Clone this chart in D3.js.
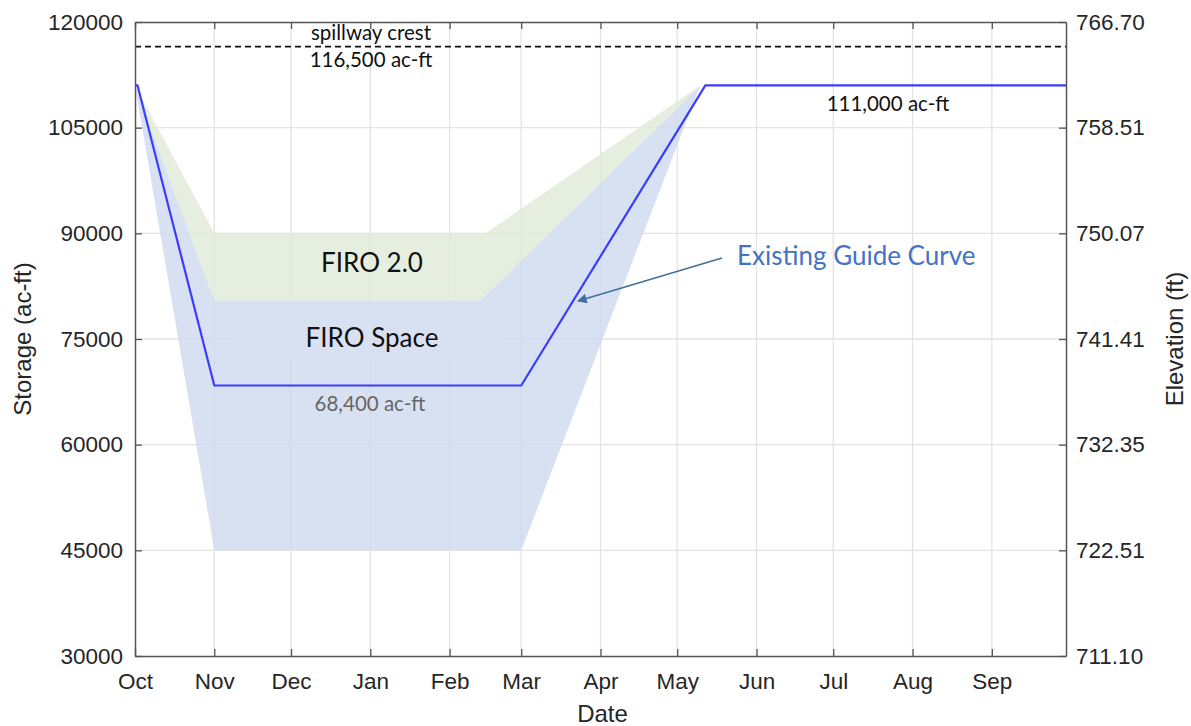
<!DOCTYPE html>
<html>
<head>
<meta charset="utf-8">
<script src="https://cdn.jsdelivr.net/npm/d3@7"></script>
<style>
  body { margin: 0; background: #fff; }
  svg { display: block; }
</style>
</head>
<body>
<svg width="1191" height="726"></svg>
<script>
var width = 1191;
var height = 726;
var margin = {left: 135, right: 125, top: 22, bottom: 70};

// x ticks
var monthTicks = ["2018-10-01","2018-11-01","2018-12-01","2019-01-01","2019-02-01","2019-03-01",
                  "2019-04-01","2019-05-01","2019-06-01","2019-07-01","2019-08-01","2019-09-01"];
var monthLabels = ["Oct","Nov","Dec","Jan","Feb","Mar","Apr","May","Jun","Jul","Aug","Sep"];

// y ticks, storage and matching elevation
var storageTicks = [30000, 45000, 60000, 75000, 90000, 105000, 120000];
var elevLabels = ["711.10","722.51","732.35","741.41","750.07","758.51","766.70"];

// existing guide curve
var guideDates = ["2018-10-01","2018-10-02","2018-11-01","2019-03-01","2019-05-12","2019-09-30"];
var guideStorage = [111000, 111000, 68400, 68400, 111000, 111000];

// FIRO 2.0 band
var firo2TopDates = ["2018-10-01","2018-11-01","2019-02-15","2019-05-10"];
var firo2Top = [111000, 90000, 90000, 111000];
var firo2BotDates = ["2018-10-01","2018-11-01","2019-02-13","2019-05-10"];
var firo2Bot = [111000, 80500, 80500, 111000];

// FIRO space lower edge
var spaceBotDates = ["2018-10-01","2018-11-01","2019-03-01","2019-05-10"];
var spaceBot = [111000, 45000, 45000, 111000];

var spillway = 116500;

var parse = d3.timeParse("%Y-%m-%d");
var toPts = function(dates, vals){
  return dates.map(function(d,i){ return {date: parse(d), v: vals[i]}; });
};

var svg = d3.select("svg");

var x = d3.scaleTime()
  .domain([parse("2018-10-01"), parse("2019-09-30")])
  .range([margin.left, width - margin.right]);
var y = d3.scaleLinear()
  .domain([30000, 120000])
  .range([height - margin.bottom, margin.top]);

var x0 = margin.left, x1 = width - margin.right;
var y0 = height - margin.bottom, y1 = margin.top;

// grid
svg.append("g").selectAll("line")
  .data(monthTicks.slice(1))
  .enter().append("line")
  .attr("x1", function(d){ return x(parse(d)); })
  .attr("x2", function(d){ return x(parse(d)); })
  .attr("y1", y0).attr("y2", y1)
  .attr("stroke", "#e3e3e3").attr("stroke-width", 1.3);
svg.append("g").selectAll("line")
  .data(storageTicks.slice(1, -1))
  .enter().append("line")
  .attr("y1", function(d){ return y(d); })
  .attr("y2", function(d){ return y(d); })
  .attr("x1", x0).attr("x2", x1)
  .attr("stroke", "#e3e3e3").attr("stroke-width", 1.3);

var line = d3.line()
  .x(function(d){ return x(d.date); })
  .y(function(d){ return y(d.v); });

var blueFill = "rgb(206,217,239)";

// label box behind FIRO Space (hides the grid there)
svg.append("rect")
  .attr("x", 233).attr("y", 300)
  .attr("width", 272).attr("height", 60)
  .attr("fill", "#fff");

// FIRO space (blue)
var spaceTop = toPts(firo2BotDates, firo2Bot);
var spaceLow = toPts(spaceBotDates, spaceBot);
svg.append("path")
  .attr("d", line(spaceTop.concat(spaceLow.slice().reverse())) + "Z")
  .attr("fill", blueFill)
  .attr("fill-opacity", 0.8);

// FIRO 2.0 (green)
var gTop = toPts(firo2TopDates, firo2Top);
var gBot = toPts(firo2BotDates, firo2Bot);
svg.append("path")
  .attr("d", line(gTop.concat(gBot.slice().reverse())) + "Z")
  .attr("fill", "rgb(224,235,215)")
  .attr("fill-opacity", 0.8);

// spillway crest
svg.append("line")
  .attr("x1", x0).attr("x2", x1)
  .attr("y1", y(spillway)).attr("y2", y(spillway))
  .attr("stroke", "#111").attr("stroke-width", 1.6)
  .attr("stroke-dasharray", "6,4");

// guide curve
svg.append("path")
  .attr("d", line(toPts(guideDates, guideStorage)))
  .attr("fill", "none")
  .attr("stroke", "#3c3cff")
  .attr("stroke-width", 2.2)
  .attr("stroke-linejoin", "round");

// axes box
var axisCol = "#555";
var tickFont = "'Liberation Sans', Arial, sans-serif";

var bottomAxis = d3.axisBottom(x)
  .tickValues(monthTicks.map(parse))
  .tickFormat(function(d,i){ return monthLabels[i]; })
  .tickSizeInner(-7).tickSizeOuter(0).tickPadding(17);
var topAxis = d3.axisTop(x)
  .tickValues(monthTicks.map(parse))
  .tickFormat("")
  .tickSizeInner(-7).tickSizeOuter(0);
var leftAxis = d3.axisLeft(y)
  .tickValues(storageTicks)
  .tickFormat(d3.format("d"))
  .tickSizeInner(-7).tickSizeOuter(0).tickPadding(12);
var rightAxis = d3.axisRight(y)
  .tickValues(storageTicks)
  .tickFormat(function(d,i){ return elevLabels[i]; })
  .tickSizeInner(-7).tickSizeOuter(0).tickPadding(10);

var axes = [
  svg.append("g").attr("transform", "translate(0," + y0 + ")").call(bottomAxis),
  svg.append("g").attr("transform", "translate(0," + y1 + ")").call(topAxis),
  svg.append("g").attr("transform", "translate(" + x0 + ",0)").call(leftAxis),
  svg.append("g").attr("transform", "translate(" + x1 + ",0)").call(rightAxis)
];
axes.forEach(function(g){
  g.select(".domain").attr("stroke", axisCol).attr("stroke-width", 1.5);
  g.selectAll(".tick line").attr("stroke", axisCol).attr("stroke-width", 1.3);
  g.selectAll(".tick text")
    .attr("fill", "#262626")
    .style("font-family", tickFont)
    .style("font-size", "22.5px");
});

// axis titles
svg.append("text")
  .attr("x", (x0 + x1) / 2 + 2).attr("y", 722)
  .attr("text-anchor", "middle")
  .style("font-family", tickFont).style("font-size", "24px")
  .attr("fill", "#262626")
  .text("Date");
svg.append("text")
  .attr("transform", "translate(31," + ((y0 + y1) / 2) + ") rotate(-90)")
  .attr("text-anchor", "middle")
  .style("font-family", tickFont).style("font-size", "24px")
  .attr("fill", "#262626")
  .text("Storage (ac-ft)");
svg.append("text")
  .attr("transform", "translate(1183," + ((y0 + y1) / 2) + ") rotate(-90)")
  .attr("text-anchor", "middle")
  .style("font-family", tickFont).style("font-size", "24px")
  .attr("fill", "#262626")
  .text("Elevation (ft)");

// annotations
var noteFont = "Lato, 'Open Sans', sans-serif";
var notes = [
  {t: "spillway crest", x: 371, y: 40, s: 20.5, c: "#111"},
  {t: "116,500 ac-ft", x: 371, y: 67, s: 20.5, c: "#111"},
  {t: "111,000 ac-ft", x: 888, y: 111, s: 20.5, c: "#111"},
  {t: "FIRO 2.0", x: 372, y: 272, s: 26, c: "#111"},
  {t: "FIRO Space", x: 372, y: 347, s: 26, c: "#111"},
  {t: "68,400 ac-ft", x: 370, y: 411, s: 20.5, c: "#666"}
];
svg.selectAll("text.note")
  .data(notes)
  .enter().append("text")
  .attr("class", "note")
  .attr("x", function(d){ return d.x; })
  .attr("y", function(d){ return d.y; })
  .attr("text-anchor", "middle")
  .style("font-family", noteFont)
  .style("font-size", function(d){ return d.s + "px"; })
  .attr("fill", function(d){ return d.c; })
  .text(function(d){ return d.t; });

// callout arrow
svg.append("defs").append("marker")
  .attr("id", "arr")
  .attr("viewBox", "0 0 10 10")
  .attr("refX", 9).attr("refY", 5)
  .attr("markerWidth", 7).attr("markerHeight", 6)
  .attr("orient", "auto")
  .append("path")
  .attr("d", "M0,0 L10,5 L0,10 Z")
  .attr("fill", "#41719c");
svg.append("line")
  .attr("x1", 722).attr("y1", 258)
  .attr("x2", 578).attr("y2", 301)
  .attr("stroke", "#41719c").attr("stroke-width", 1.6)
  .attr("marker-end", "url(#arr)");
svg.append("text")
  .attr("x", 737).attr("y", 265)
  .style("font-family", noteFont).style("font-size", "26px")
  .attr("fill", "#4472c4")
  .text("Existing Guide Curve");
</script>
</body>
</html>
